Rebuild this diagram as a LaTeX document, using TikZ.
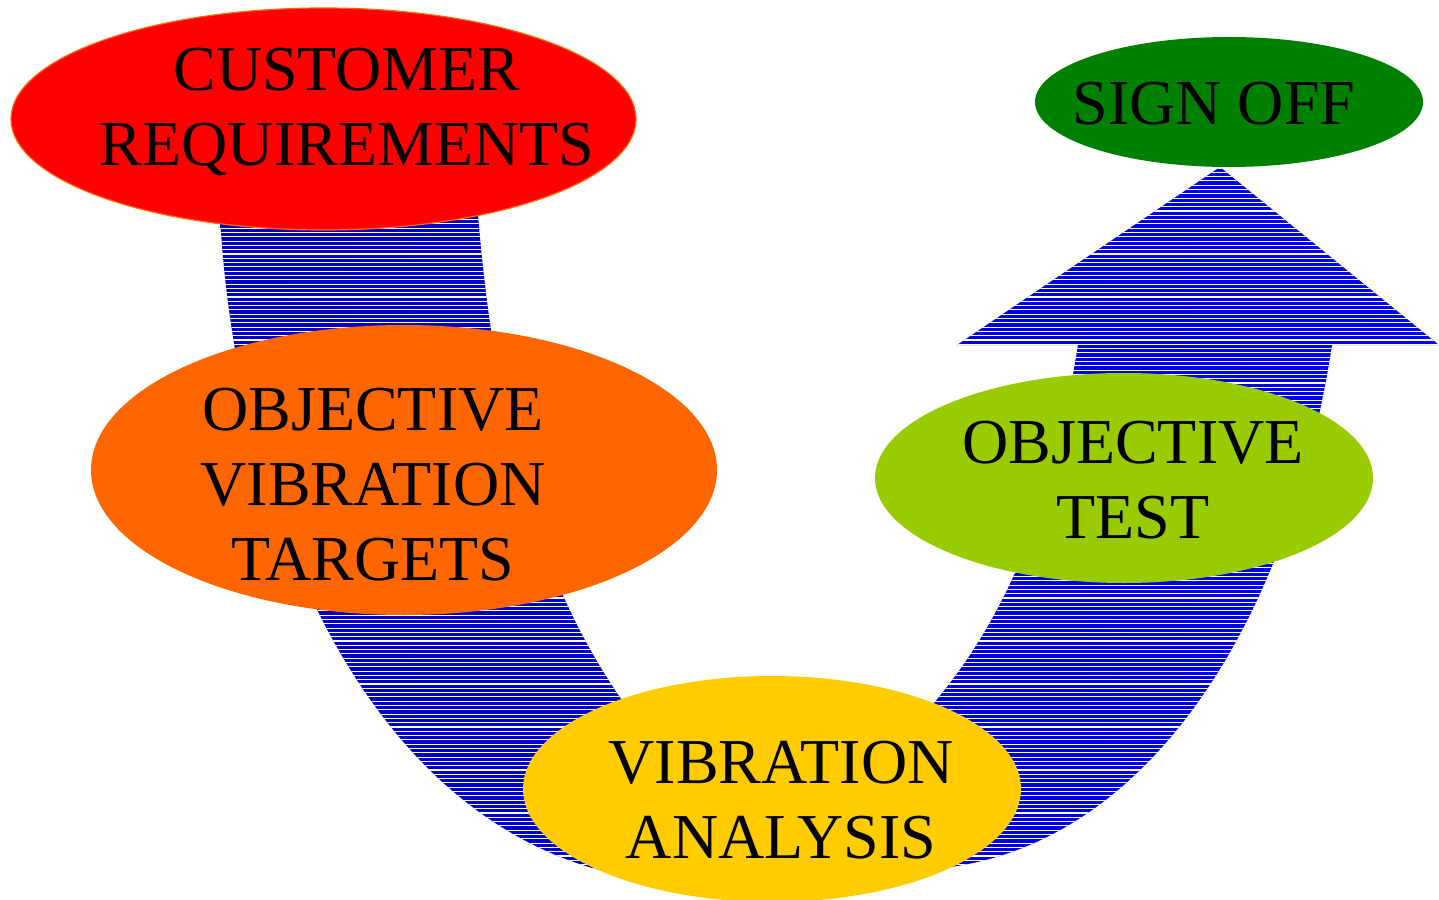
\documentclass[tikz,border=0pt]{standalone}
\usepackage{fontspec}
\setmainfont{Liberation Serif}
\usetikzlibrary{shapes.geometric}
\definecolor{cred}{RGB}{255,0,0}
\definecolor{corange}{RGB}{255,102,0}
\definecolor{cyellow}{RGB}{255,204,0}
\definecolor{clime}{RGB}{153,204,0}
\definecolor{cgreen}{RGB}{0,128,0}
\definecolor{bdark}{RGB}{0,0,195}
\definecolor{bbright}{RGB}{0,0,255}
\tikzset{
  ell/.style={ellipse, draw=none, inner sep=0pt},
  lbl/.style={align=center, font=\fontsize{32}{37.5}\selectfont, text=black, inner sep=0pt},
}
\begin{document}
\begin{tikzpicture}[x=0.5pt,y=-0.5pt]
\useasboundingbox (0,0) rectangle (1439,899);
% U-shaped arrow
\def\bandpath{(220,215) .. controls (235,500) and (360,820) .. (620,875)
  .. controls (760,890) and (850,880) .. (950,867)
  .. controls (1150,840) and (1290,620) .. (1332,345)
  -- (1439,345) -- (1220,167) -- (957,345) -- (1078,345)
  .. controls (1050,520) and (1000,640) .. (900,740)
  .. controls (820,800) and (700,790) .. (640,725)
  .. controls (560,620) and (500,480) .. (478,215) -- cycle}
\begin{scope}
  \clip \bandpath;
  \shade[left color=bdark, right color=bbright, middle color=bdark!70!bbright] (200,160) rectangle (1439,899);
  \foreach \k in {0,...,170} {
    \draw[white, line width=0.55pt] (200,{168+4.3*\k}) -- (1439,{168+4.3*\k});
  }
\end{scope}
% ellipses
\node[ell, fill=cred, draw=corange, line width=0.6pt, minimum width=312.5pt, minimum height=111pt] (cr) at (323.5,119) {};
\node[ell, fill=corange, minimum width=313pt, minimum height=145pt] (ovt) at (404,470) {};
\node[ell, fill=cyellow, minimum width=249pt, minimum height=113pt] (va) at (772,789) {};
\node[ell, fill=clime, minimum width=249pt, minimum height=105pt] (ot) at (1124,478) {};
\node[ell, fill=cgreen, minimum width=194pt, minimum height=65pt] (so) at (1229,102) {};
% labels
\node[lbl] (crt) at (347,112) {CUSTOMER\\REQUIREMENTS};
\node[lbl] (ovtt) at (373,485) {OBJECTIVE\\VIBRATION\\TARGETS};
\node[lbl] (vat) at (781,800) {VIBRATION\\ANALYSIS};
\node[lbl] (ott) at (1133,480) {OBJECTIVE\\TEST};
\node[lbl] (sot) at (1214,104) {SIGN OFF};
\end{tikzpicture}
\end{document}
